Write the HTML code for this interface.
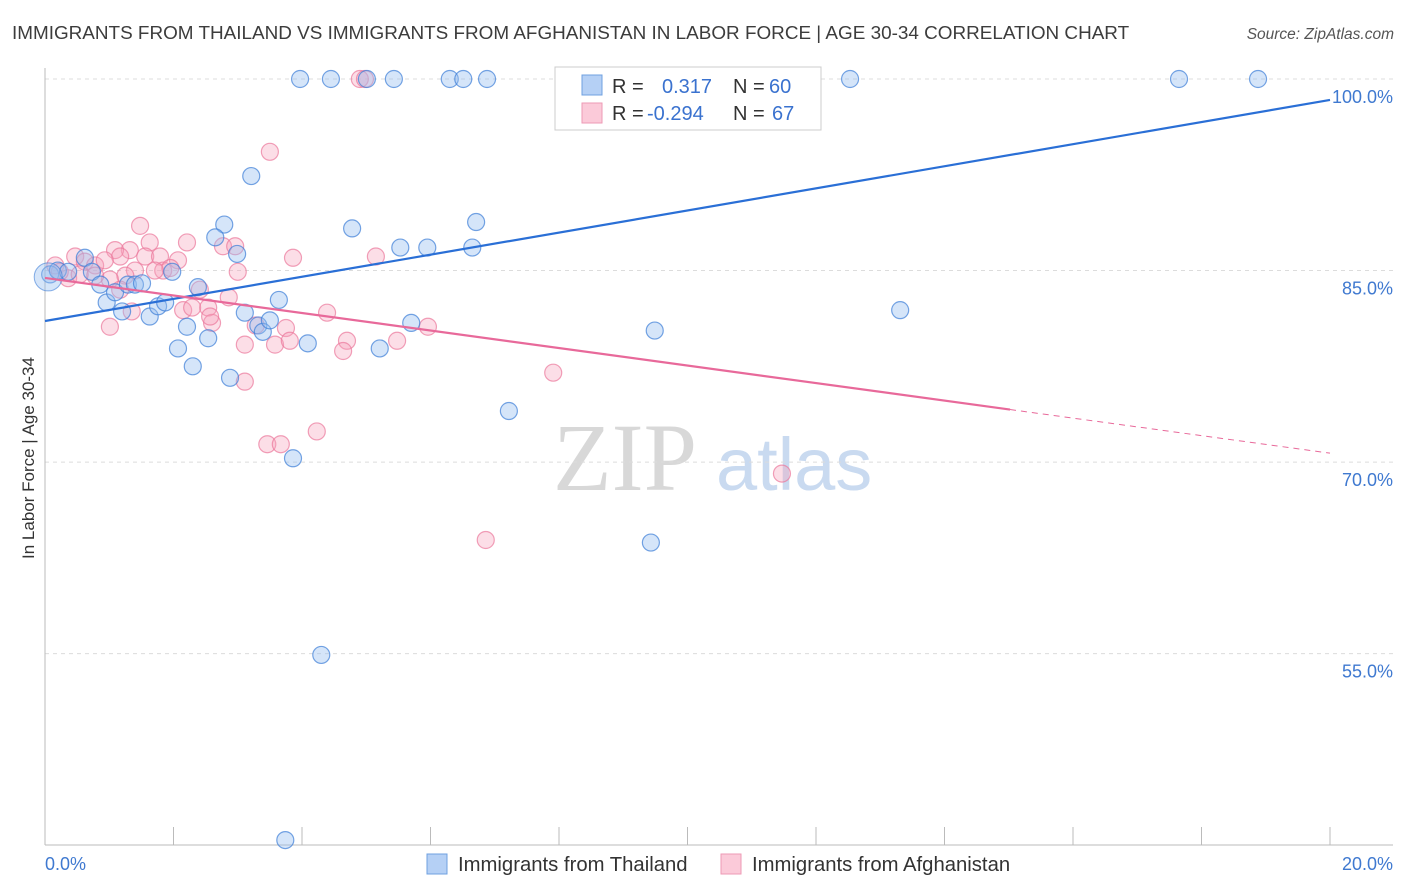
<!DOCTYPE html>
<html><head><meta charset="utf-8"><style>
body{margin:0;background:#fff;font-family:"Liberation Sans",sans-serif;}
#wrap{position:relative;width:1406px;height:892px;overflow:hidden;}
</style></head><body>
<div id="wrap">
<svg id="chart" width="1406" height="892" xmlns="http://www.w3.org/2000/svg"></svg>
</div>
<script>
// Data
const thaiX=[3.97,4.45,5.01,5.43,6.30,6.51,6.88,11.33,12.53,17.65,18.88,3.21,2.79,2.65,2.99,4.78,5.53,5.95,6.71,6.65,0.08,0.20,0.36,0.62,0.73,0.86,0.96,1.09,1.20,1.29,1.40,1.51,1.63,1.76,1.87,1.98,2.07,2.21,2.30,2.38,2.54,2.88,3.11,3.32,3.39,3.50,3.64,3.86,4.09,4.30,3.74,5.21,5.70,7.22,9.49,9.43,13.31];
const thaiY=[100,100,100,100,100,100,100,100,100,100,100,92.4,88.6,87.6,86.3,88.3,86.8,86.8,88.8,86.8,84.7,85.0,84.9,86.0,84.9,83.9,82.5,83.3,81.8,83.9,83.9,84.0,81.4,82.2,82.5,84.9,78.9,80.6,77.5,83.7,79.7,76.6,81.7,80.7,80.2,81.1,82.7,70.3,79.3,54.9,40.4,78.9,80.9,74.0,80.3,63.7,81.9];
const afgX=[4.90,4.98,10.85,3.50,1.48,1.63,2.21,1.32,1.09,1.17,0.47,0.62,0.78,0.93,1.56,1.79,1.84,2.07,1.95,1.40,1.71,1.25,1.01,0.36,0.16,0.23,2.41,2.77,2.96,3.00,2.86,3.86,5.15,2.15,2.29,2.54,2.60,2.57,3.11,3.28,3.75,3.58,3.81,4.39,4.70,4.64,5.48,5.96,7.91,3.11,3.46,3.67,4.23,6.86,11.47,1.01,1.35,0.78,0.54,1.17];
const afgY=[100,100,100,94.3,88.5,87.2,87.2,86.6,86.6,86.1,86.1,85.7,85.4,85.8,86.1,86.1,85.0,85.8,85.2,85.0,85.0,84.6,84.3,84.4,85.4,84.9,83.5,86.9,86.9,84.9,82.9,86.0,86.1,81.9,82.1,82.1,80.9,81.4,79.2,80.7,80.5,79.2,79.5,81.7,79.5,78.7,79.5,80.6,77.0,76.3,71.4,71.4,72.4,63.9,69.1,80.6,81.8,84.6,84.7,83.5];
const thaiTrend=[81.05,98.36];
const afgTrend=[84.42,70.7];
const afgSolidEnd=15.02;
const yTicks=[100,85,70,55];
const yTickLabels=["100.0%","85.0%","70.0%","55.0%"];
const xTicks=[0,2,4,6,8,10,12,14,16,18,20];

const NS="http://www.w3.org/2000/svg";
const svg=document.getElementById('chart');
const X=v=>45+v/20*1285;
const Y=v=>79+(100-v)*12.77;
function el(t,a,p){const e=document.createElementNS(NS,t);for(const k in a)e.setAttribute(k,a[k]);(p||svg).appendChild(e);return e;}

// title
let t=el('text',{x:12,y:39,'font-size':18.9,fill:'#3c3c3c'});t.textContent="IMMIGRANTS FROM THAILAND VS IMMIGRANTS FROM AFGHANISTAN IN LABOR FORCE | AGE 30-34 CORRELATION CHART";


t=el('text',{x:1394,y:39,'font-size':15.5,fill:'#555','font-style':'italic','text-anchor':'end'});t.textContent="Source: ZipAtlas.com";



// watermark
t=el('text',{x:553,y:490,'font-size':96,fill:'#d8d8d8','font-family':'Liberation Serif, serif'});t.textContent="ZIP";


t=el('text',{x:716,y:490,'font-size':74,fill:'#c9daf0'});t.textContent="atlas";



// gridlines and y labels
yTicks.forEach((v,i)=>{
 const g=el('line',{x1:45,x2:1393,y1:Y(v),y2:Y(v),stroke:'#dcdcdc','stroke-dasharray':'4,4'});
 
 
 const l=el('text',{x:1393,y:Y(v)+24,'font-size':18,fill:'#3f79d0','text-anchor':'end'});l.textContent=yTickLabels[i];
 
 
});
// axes
let a=el('line',{x1:45,x2:45,y1:68,y2:845,stroke:'#bbb'});


a=el('line',{x1:45,x2:1393,y1:845,y2:845,stroke:'#bbb'});


xTicks.forEach(v=>{const k=el('line',{x1:X(v),x2:X(v),y1:827,y2:845,stroke:'#bbb'});
 
 });
t=el('text',{x:45,y:870,'font-size':18,fill:'#3f79d0'});t.textContent="0.0%";


t=el('text',{x:1393,y:870,'font-size':18,fill:'#3f79d0','text-anchor':'end'});t.textContent="20.0%";


t=el('text',{x:34,y:458,'font-size':17,fill:'#333','text-anchor':'middle',transform:'rotate(-90 34 458)'});t.textContent="In Labor Force | Age 30-34";



// points
function pts(xs,ys,fill,stroke,name){xs.forEach((x,i)=>{const c=el('circle',{cx:X(x),cy:Y(ys[i]),r:8.5,fill:fill,stroke:stroke,'stroke-width':1.2});
 
 });}
pts(afgX,afgY,'rgba(246,160,185,0.35)','rgba(235,120,155,0.7)','afghanistan-point');
pts(thaiX,thaiY,'rgba(150,190,240,0.4)','rgba(60,125,215,0.7)','thailand-point');
let big=el('circle',{cx:X(0.05),cy:Y(84.5),r:14,fill:'rgba(150,190,240,0.4)',stroke:'rgba(60,125,215,0.6)'});



// trends
let ln=el('line',{x1:X(0),y1:Y(thaiTrend[0]),x2:X(20),y2:Y(thaiTrend[1]),stroke:'#2a6fd6','stroke-width':2.2});


const ay=x=>afgTrend[0]+(afgTrend[1]-afgTrend[0])*x/20;
ln=el('line',{x1:X(0),y1:Y(ay(0)),x2:X(afgSolidEnd),y2:Y(ay(afgSolidEnd)),stroke:'#e8699a','stroke-width':2.2});


ln=el('line',{x1:X(afgSolidEnd),y1:Y(ay(afgSolidEnd)),x2:X(20),y2:Y(ay(20)),stroke:'#e8699a','stroke-width':1,'stroke-dasharray':'6,5'});



// stats legend
const lg=el('g',{});


el('rect',{x:555,y:67,width:266,height:63,fill:'#fff',stroke:'#ccc'},lg);
el('rect',{x:582,y:75,width:20,height:20,fill:'#b5d0f5',stroke:'#6fa0e0'},lg);
el('rect',{x:582,y:103,width:20,height:20,fill:'#fbcad9',stroke:'#ee9ab5'},lg);
[['R = ',612,93,'#333'],['0.317',662,93,'#3a72cf'],['N = ',733,93,'#333'],['60',769,93,'#3a72cf'],
 ['R = ',612,120,'#333'],['-0.294',647,120,'#3a72cf'],['N = ',733,120,'#333'],['67',772,120,'#3a72cf']].forEach(s=>{
 const tt=el('text',{x:s[1],y:s[2],'font-size':20,fill:s[3]},lg);tt.textContent=s[0];
 
 });

// bottom legend
[[427,'#b5d0f5','#6fa0e0','Immigrants from Thailand','legend-thailand'],[721,'#fbcad9','#ee9ab5','Immigrants from Afghanistan','legend-afghanistan']].forEach(s=>{
 const g=el('g',{});
 
 
 el('rect',{x:s[0],y:854,width:20,height:20,fill:s[1],stroke:s[2]},g);
 const tt=el('text',{x:s[0]+31,y:871,'font-size':20.3,fill:'#333'},g);tt.textContent=s[3];
});
</script>
</body></html>
